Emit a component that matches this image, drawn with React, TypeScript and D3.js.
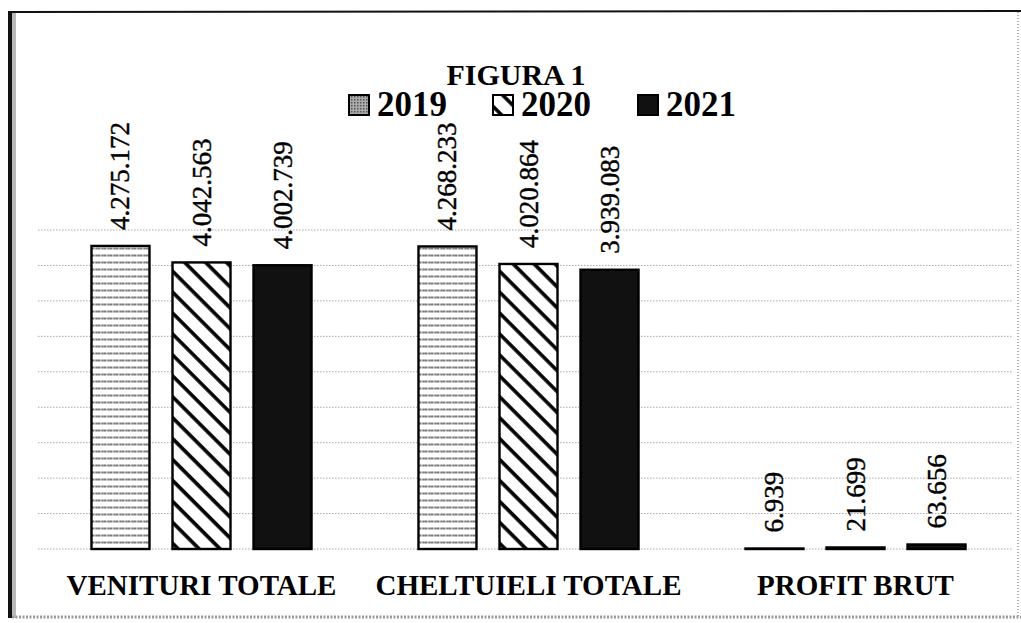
import React from "react";
import * as d3 from "d3";

const categories = ["VENITURI TOTALE", "CHELTUIELI TOTALE", "PROFIT BRUT"];
const years = ["2019", "2020", "2021"];
const values2019 = [4275172, 4268233, 6939];
const values2020 = [4042563, 4020864, 21699];
const values2021 = [4002739, 3939083, 63656];
const title = "FIGURA 1";

const W = 1021;
const H = 623;
const plotLeft = 38;
const plotRight = 1019;
const plotTop = 230;
const plotBottom = 549;

const seriesValues = [values2019, values2020, values2021];
const fillFor = ["url(#pat2019)", "url(#pat2020)", "#111"];
const swatchFill = ["url(#pat2019sw)", "url(#pat2020)", "#111"];
const serif = "'Liberation Serif', 'Times New Roman', serif";

export default function App() {
  const x0 = d3.scaleBand<string>().domain(categories).range([plotLeft, plotRight]).paddingInner(0).paddingOuter(0);
  const x1 = d3
    .scaleBand<string>()
    .domain(years)
    .range([0, x0.bandwidth()])
    .paddingInner(0.284)
    .paddingOuter(0.66);
  const y = d3.scaleLinear().domain([0, 4500000]).range([plotBottom, plotTop]);
  const fmt = (v: number) => d3.format(",")(v).replace(/,/g, ".");
  const gridTicks = y.ticks(10);

  const legendItems = [
    { year: years[0], sx: 349 },
    { year: years[1], sx: 493 },
    { year: years[2], sx: 638 },
  ];

  return (
    <svg width={W} height={H} style={{ position: "absolute", left: 0, top: 0, background: "#fff" }}>
      <defs>
        <pattern id="pat2019" patternUnits="userSpaceOnUse" width="6" height="7">
          <rect width="6" height="7" fill="#fff" />
          <line x1="0" y1="3.5" x2="6" y2="3.5" stroke="#7a7a7a" strokeWidth="1.8" strokeDasharray="2.5 0.8" />
        </pattern>
        <pattern id="pat2019sw" patternUnits="userSpaceOnUse" width="3" height="3">
          <rect width="3" height="3" fill="#aaa" />
          <rect width="1.5" height="1.5" fill="#555" />
        </pattern>
        <pattern id="pat2020" patternUnits="userSpaceOnUse" width="14.8" height="14.8" patternTransform="rotate(-45)">
          <rect width="14.8" height="14.8" fill="#fff" />
          <line x1="7" y1="0" x2="7" y2="14.8" stroke="#000" strokeWidth="3.6" />
        </pattern>
      </defs>

      {/* frame */}
      <rect x={8} y={11} width={4} height={607} fill="#111" />
      <rect x={12} y={11} width={4} height={607} fill="#9a9a9a" opacity={0.7} />
      <line x1={8} y1={12} x2={1021} y2={11} stroke="#111" strokeWidth={2} />
      <line x1={1018} y1={12} x2={1018} y2={617} stroke="#999" strokeWidth={1.5} strokeDasharray="1 2" />
      <line x1={12} y1={617} x2={1021} y2={617} stroke="#999" strokeWidth={3} strokeDasharray="2 1.5" />

      {/* gridlines */}
      {gridTicks.map((t) => (
        <line
          key={t}
          x1={plotLeft}
          x2={1013}
          y1={y(t)}
          y2={y(t)}
          stroke="#aaa"
          strokeWidth={1}
          strokeDasharray="1.5 1.5"
        />
      ))}

      {/* title */}
      <text x={516} y={85} textAnchor="middle" fontFamily={serif} fontWeight="bold" fontSize={30} fill="#000">
        {title}
      </text>

      {/* legend */}
      {legendItems.map((it, i) => (
        <g key={it.year}>
          <rect
            x={it.sx}
            y={95}
            width={20}
            height={20}
            fill={swatchFill[i]}
            stroke="#000"
            strokeWidth={2}
          />
          <text x={it.sx + 28} y={116} fontFamily={serif} fontWeight="bold" fontSize={35} fill="#000">
            {it.year}
          </text>
        </g>
      ))}

      {/* bars */}
      {categories.map((cat, ci) => (
        <g key={cat} transform={`translate(${x0(cat)},0)`}>
          {years.map((yr, si) => {
            const v = seriesValues[si][ci];
            const bx = x1(yr)!;
            const bw = x1.bandwidth();
            const top = y(v);
            const h = Math.max(0.5, plotBottom - top);
            const cx = bx + bw / 2;
            return (
              <g key={yr}>
                <rect
                  x={bx}
                  y={top}
                  width={bw}
                  height={h}
                  fill={fillFor[si]}
                  stroke="#000"
                  strokeWidth={2.4}
                />
                <text
                  transform={`translate(${cx},${top - 16}) rotate(-90)`}
                  dominantBaseline="central"
                  fontFamily={serif}
                  fontSize={27}
                  fill="#000"
                  stroke="#000"
                  strokeWidth={0.4}
                >
                  {fmt(v)}
                </text>
              </g>
            );
          })}
          <text
            x={x0.bandwidth() / 2}
            y={595}
            textAnchor="middle"
            fontFamily={serif}
            fontWeight="bold"
            fontSize={29}
            fill="#000"
          >
            {cat}
          </text>
        </g>
      ))}
    </svg>
  );
}
